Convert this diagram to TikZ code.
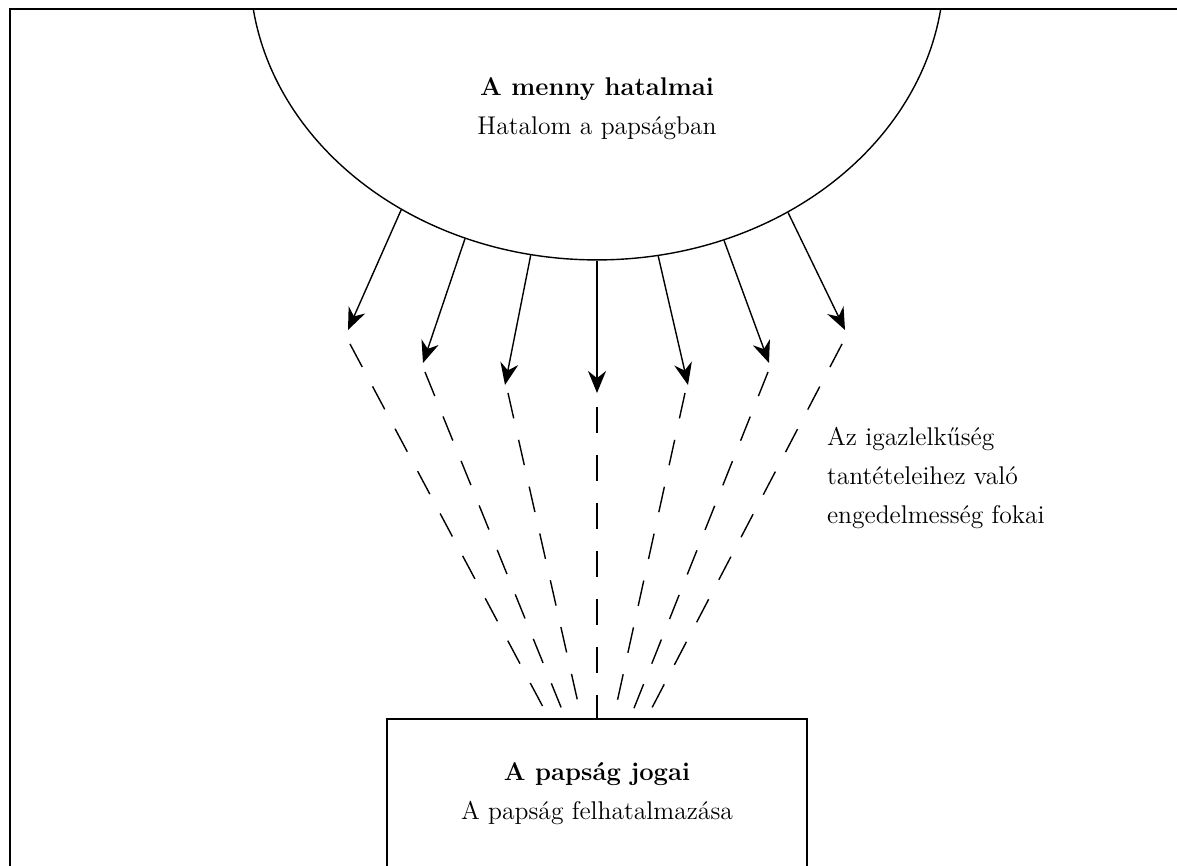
\documentclass[tikz,border=0pt]{standalone}
\usepackage{tikz}
\usetikzlibrary{arrows.meta,shapes.geometric,calc}

\begin{document}
\begin{tikzpicture}[x=1.7573cm, y=1.7573cm,
    every node/.style={font=\fontsize{12.8}{19.5}\selectfont},
    ray/.style={-{Stealth[length=11pt,width=9pt]}, line width=0.7pt},
    fok/.style={line width=0.7pt, dash pattern=on 13pt off 11pt}]
    \useasboundingbox (0,0) rectangle (11.77,8.66);
    \clip (0,0) rectangle (11.77,8.66);

    % Frame
    \draw[line width=1pt] (0.105,0) |- (11.77,8.57);

    % Heaven
    \begin{scope}
        \clip (0,0) rectangle (11.77,8.57);
        \node[ellipse, draw, line width=0.7pt, minimum width=12.2cm, minimum height=10.26cm] (menny) at (5.97,8.98) {};
    \end{scope}
    \node[align=center] (mennytext) at (5.97,7.57) {\textbf{A menny hatalmai}\\Hatalom a papságban};

    % Priesthood box
    \node[draw, line width=0.7pt, minimum width=7.38cm, minimum height=2.62cm, align=center] (jogok) at (5.97,0.725) {\textbf{A papság jogai}\\A papság felhatalmazása};

    % Degrees
    \node[align=left, anchor=west] (fokok) at (8.20,3.88) {Az igazlelkűség\\tantételeihez való\\engedelmesség fokai};

    % Arrow tips
    \coordinate (t1) at (3.48,5.36);
    \coordinate (t2) at (4.23,5.03);
    \coordinate (t3) at (5.05,4.81);
    \coordinate (t4) at (5.97,4.73);
    \coordinate (t5) at (6.88,4.81);
    \coordinate (t6) at (7.69,5.03);
    \coordinate (t7) at (8.45,5.36);

    % Dashed starts
    \coordinate (d1) at (3.50,5.22);
    \coordinate (d2) at (4.25,4.94);
    \coordinate (d3) at (5.08,4.73);
    \coordinate (d4) at (5.97,4.59);
    \coordinate (d5) at (6.85,4.73);
    \coordinate (d6) at (7.68,4.94);
    \coordinate (d7) at (8.42,5.22);

    % Powers
    \draw[ray] (menny.231.5) -- (t1);
    \draw[ray] (menny.244.5) -- (t2);
    \draw[ray] (menny.257.5) -- (t3);
    \draw[ray] (menny.270) -- (t4);
    \draw[ray] (menny.282.5) -- (t5);
    \draw[ray] (menny.295.5) -- (t6);
    \draw[ray] (menny.308.5) -- (t7);

    % Obedience
    \draw[fok] (d1) -- ($(jogok.north)+(-0.48,0)$);
    \draw[fok] (d2) -- ($(jogok.north)+(-0.315,0)$);
    \draw[fok] (d3) -- ($(jogok.north)+(-0.155,0)$);
    \draw[fok] (d4) -- (jogok.north);
    \draw[fok] (d5) -- ($(jogok.north)+(0.165,0)$);
    \draw[fok] (d6) -- ($(jogok.north)+(0.33,0)$);
    \draw[fok] (d7) -- ($(jogok.north)+(0.495,0)$);
\end{tikzpicture}
\end{document}
